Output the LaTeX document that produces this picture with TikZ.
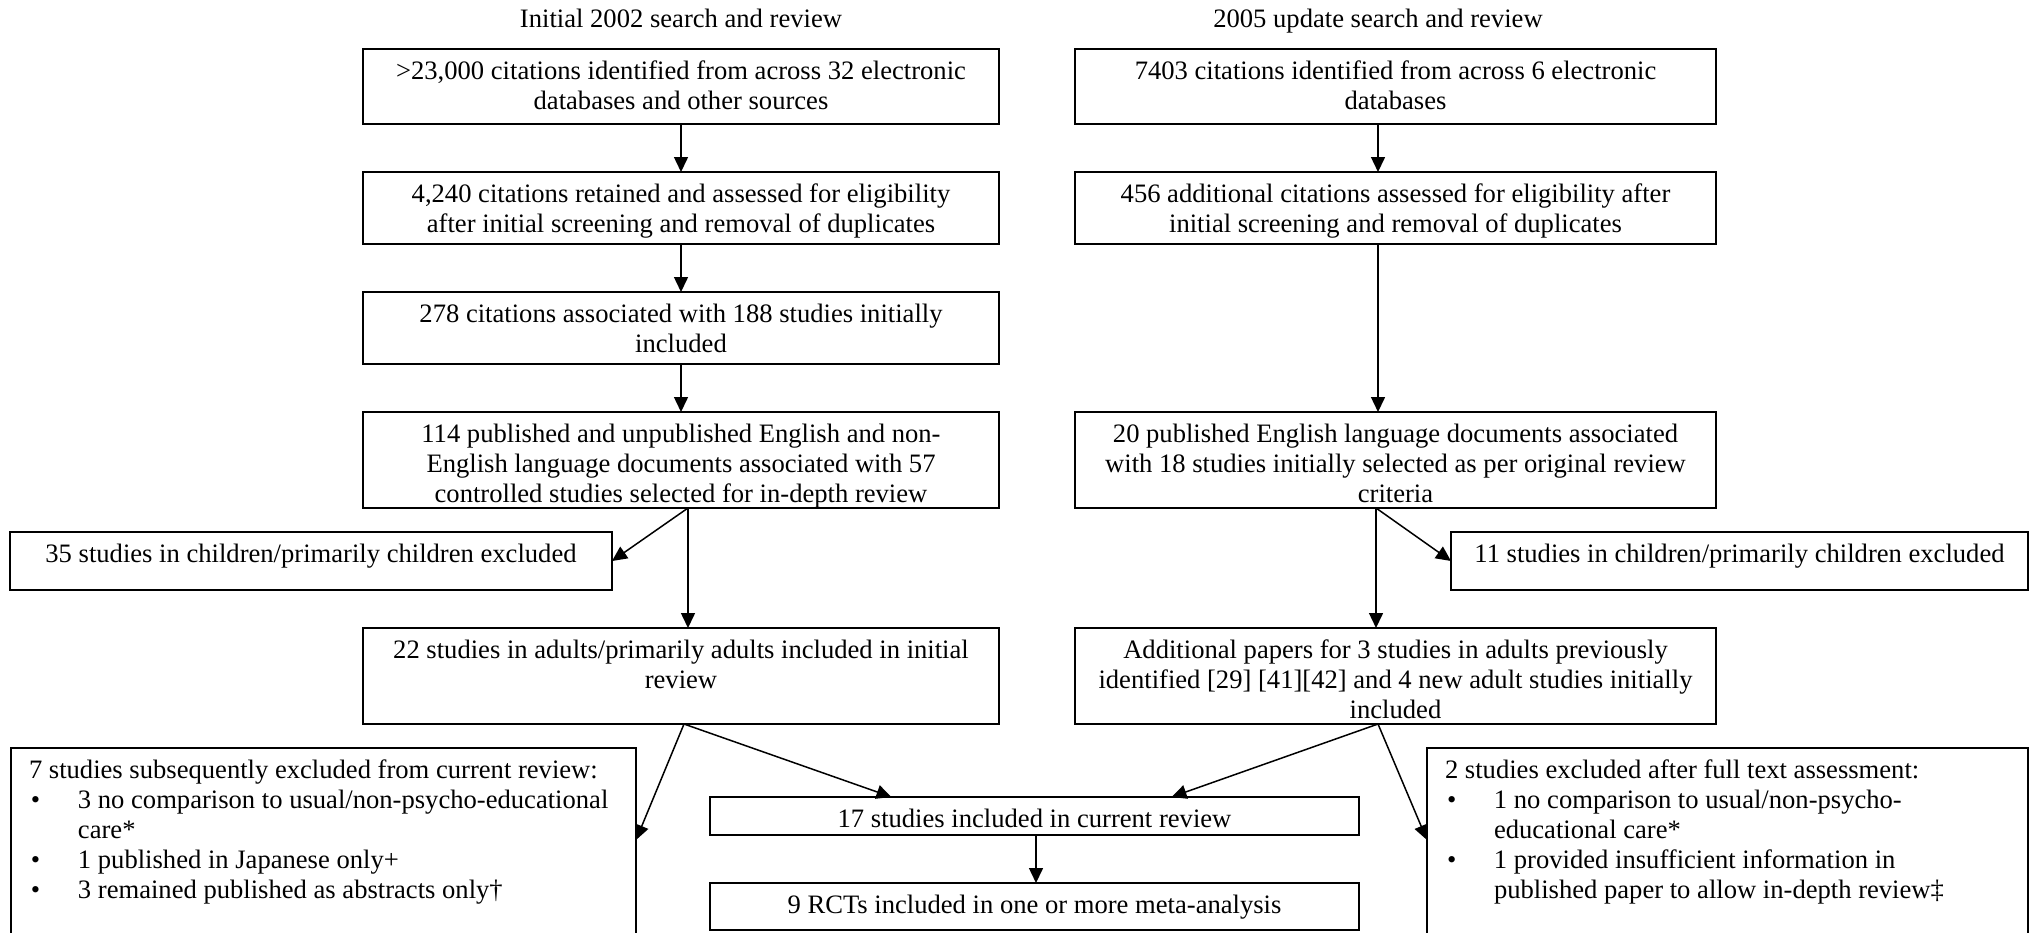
\documentclass[tikz,border=0pt]{standalone}
\usepackage{fontspec}
\setmainfont{Liberation Serif}
\usepackage{tikz}
\usetikzlibrary{arrows.meta,positioning}

\newcommand{\bul}{\makebox[24.5pt][l]{\hspace{1pt}\textbullet}}

\begin{document}
\begin{tikzpicture}[node distance=24pt,
    font=\fontsize{13.3pt}{15pt}\selectfont,
    box/.style={draw,line width=0.9pt,anchor=north,align=flush center,inner xsep=4pt,inner ysep=2pt,
      outer sep=0pt,text width=#1-8pt,execute at begin node=\rule{0pt}{13.3pt}},
    box/.default=318pt,
    exbox/.style={box=#1,align=flush left,inner xsep=9pt,text width=#1-18pt},
    title/.style={inner sep=0pt,text depth=0pt},
    arrow/.style={-{Triangle[length=7.5pt,width=7pt]},line width=0.75pt}]
  \useasboundingbox (0,0) rectangle (1019pt,-466pt);
  % initial 2002 search
  \node[box,text depth=20.2pt] (b1) at (340.5pt,-24.5pt) {>23,000 citations identified from across 32 electronic\\databases and other sources};
  \node[box,text depth=18.7pt,below=of b1] (b2) {4,240 citations retained and assessed for eligibility\\after initial screening and removal of duplicates};
  \node[box,text depth=18.7pt,below=of b2] (b3) {278 citations associated with 188 studies initially\\included};
  \node[box,text depth=30.7pt,below=of b3] (b4) {114 published and unpublished English and non-\\English language documents associated with 57\\controlled studies selected for in-depth review};
  \node[box,text depth=30.7pt,below=60pt of b4] (a1) {22 studies in adults/primarily adults included in initial\\review};
  \node[title,above=10.5pt of b1] (t1) {Initial 2002 search and review};
  % 2005 update
  \node[box=320.5pt,text depth=20.2pt] (r1) at (697.75pt,-24.5pt) {7403 citations identified from across 6 electronic\\databases};
  \node[box=320.5pt,text depth=18.7pt,below=of r1] (r2) {456 additional citations assessed for eligibility after\\initial screening and removal of duplicates};
  \node[box=320.5pt,text depth=30.7pt,below=84pt of r2] (r4) {20 published English language documents associated\\with 18 studies initially selected as per original review\\criteria};
  \node[box=320.5pt,text depth=30.7pt,below=60pt of r4] (r5) {Additional papers for 3 studies in adults previously\\identified [29] [41][42] and 4 new adult studies initially\\included};
  \node[title,above=10.5pt of r1,xshift=-8.75pt] (t2) {2005 update search and review};
  % exclusions and results
  \node[box=301pt,text depth=11.7pt] (c35) at (155.5pt,-266pt) {35 studies in children/primarily children excluded};
  \node[box=288.5pt,text depth=11.7pt] (c11) at (869.75pt,-266pt) {11 studies in children/primarily children excluded};
  \node[box=324.5pt,text depth=1.7pt] (inc17) at (517.25pt,-398.5pt) {17 studies included in current review};
  \node[box=324.5pt,text depth=6.2pt,below=of inc17] (rct9) {9 RCTs included in one or more meta-analysis};
  \node[exbox=312.5pt,text depth=89.7pt] (ex7) at (161.75pt,-374pt) {7 studies subsequently excluded from current review:\\
    \bul 3 no comparison to usual/non-psycho-educational\\
    \hspace*{24.5pt}care*\\
    \bul 1 published in Japanese only+\\
    \bul 3 remained published as abstracts only†};
  \node[exbox=300.5pt,text depth=89.7pt] (ex2) at (863.75pt,-374pt) {2 studies excluded after full text assessment:\\
    \bul 1 no comparison to usual/non-psycho-\\
    \hspace*{24.5pt}educational care*\\
    \bul 1 provided insufficient information in\\
    \hspace*{24.5pt}published paper to allow in-depth review‡};
  \draw[arrow] (b1) -- (b2);
  \draw[arrow] (b2) -- (b3);
  \draw[arrow] (b3) -- (b4);
  \draw[arrow] ([xshift=3.5pt]b4.south) -- (c35.east);
  \draw[arrow] ([xshift=3.5pt]b4.south) -- ([xshift=3.5pt]a1.north);
  \draw[arrow] ([xshift=1.5pt]a1.south) -- ([yshift=-46pt]ex7.north east);
  \draw[arrow] ([xshift=1.5pt]a1.south) -- ([xshift=-71.5pt]inc17.north);
  \draw[arrow] ([xshift=-8.75pt]r1.south) -- ([xshift=-8.75pt]r2.north);
  \draw[arrow] ([xshift=-8.75pt]r2.south) -- ([xshift=-8.75pt]r4.north);
  \draw[arrow] ([xshift=-9.75pt]r4.south) -- (c11.west);
  \draw[arrow] ([xshift=-9.75pt]r4.south) -- ([xshift=-9.75pt]r5.north);
  \draw[arrow] ([xshift=-8.75pt]r5.south) -- ([xshift=68.5pt]inc17.north);
  \draw[arrow] ([xshift=-8.75pt]r5.south) -- ([yshift=-46pt]ex2.north west);
  \draw[arrow] ([xshift=0.75pt]inc17.south) -- ([xshift=0.75pt]rct9.north);
\end{tikzpicture}
\end{document}
